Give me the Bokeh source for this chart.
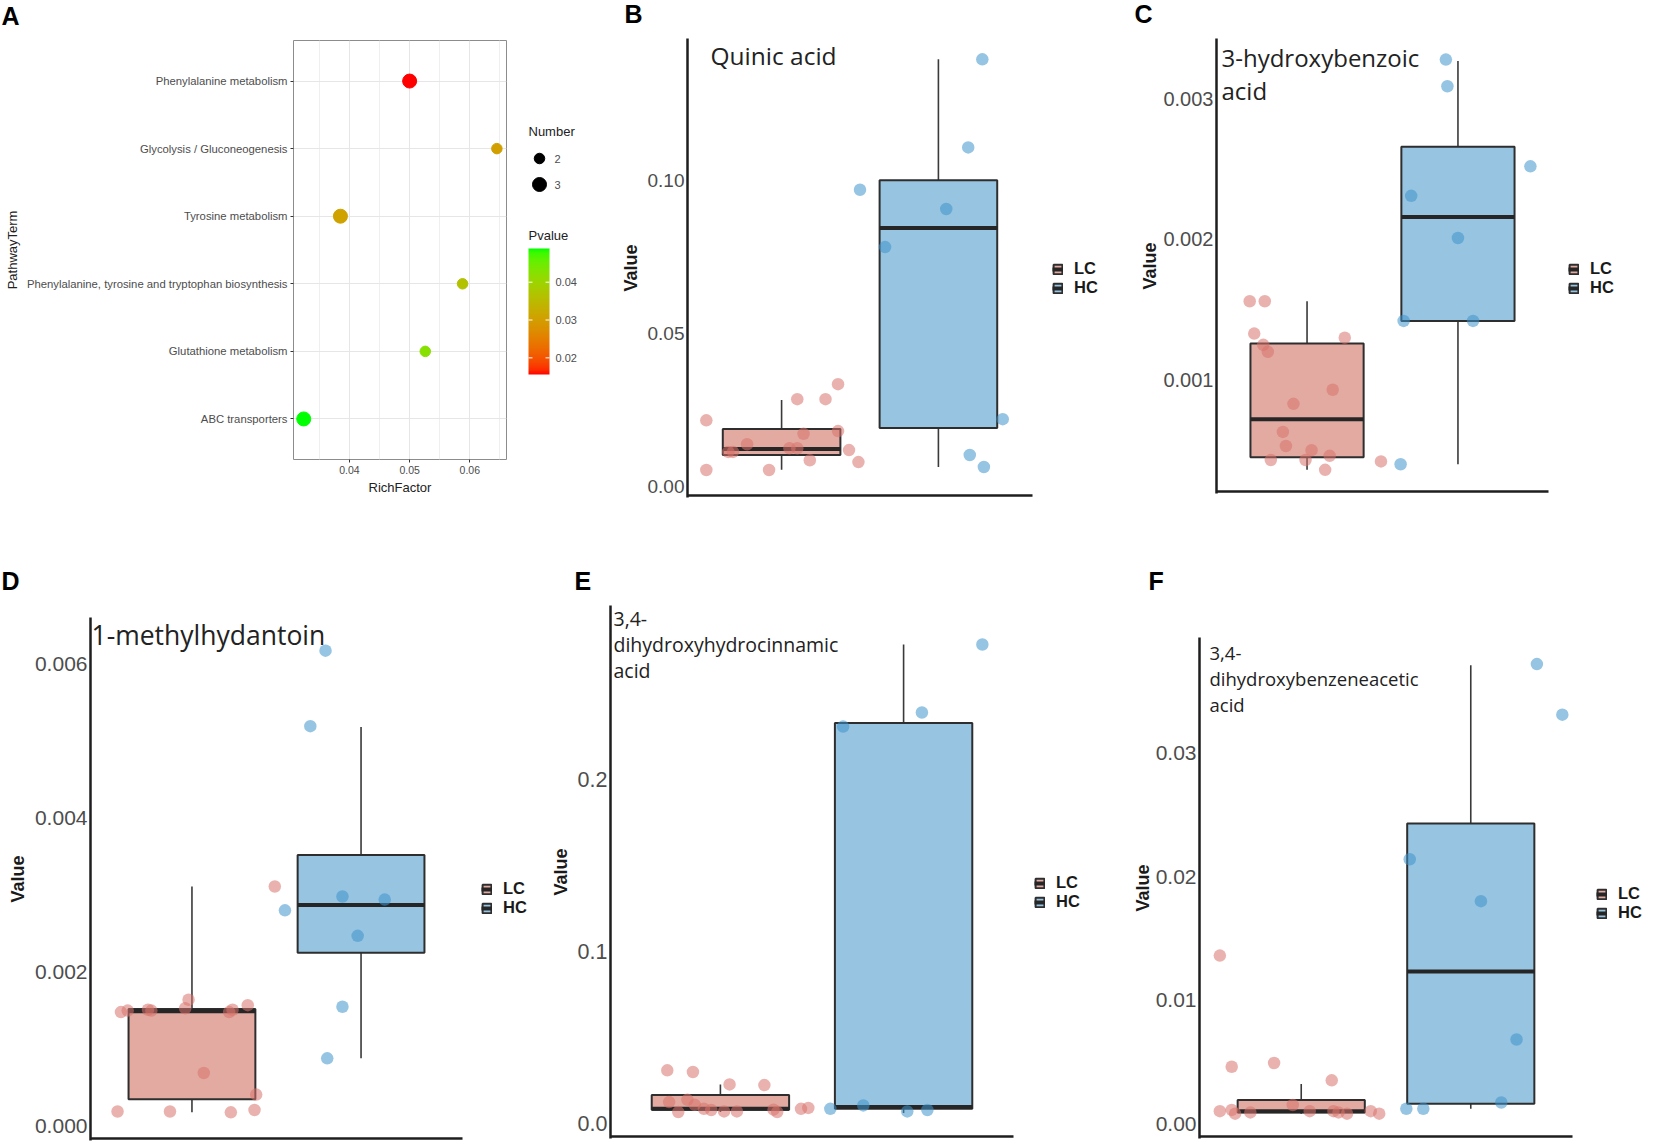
import numpy as np
from bokeh.plotting import figure
from bokeh.layouts import row, column
from bokeh.models import (Range1d, FactorRange, FixedTicker, PrintfTickFormatter, Label,
                          Legend, LegendItem, ColumnDataSource, LinearColorMapper)
from bokeh.core.properties import value
from bokeh.embed import file_html
from bokeh.resources import INLINE

# ---------------- Panel A data (KEGG enrichment) ----------------
pathways = ["Phenylalanine metabolism", "Glycolysis / Gluconeogenesis", "Tyrosine metabolism",
            "Phenylalanine, tyrosine and tryptophan biosynthesis", "Glutathione metabolism",
            "ABC transporters"]
rich_factor = [0.0500, 0.0645, 0.0385, 0.0588, 0.0526, 0.0324]
pathway_number = [3, 2, 3, 2, 2, 3]
pathway_pvalue = [0.0156, 0.0303, 0.0308, 0.0365, 0.0425, 0.0489]
rich_ticks = [0.04, 0.05, 0.06]
pvalue_ticks = [0.02, 0.03, 0.04]

groups = ["LC", "HC"]
panel_letters = ["A", "B", "C", "D", "E", "F"]

# ---------------- Panel B: Quinic acid ----------------
quinic_lc_x = [0.52, 0.52, 0.92, 1.10, 1.28, 1.36, 1.14, 1.36, 0.78, 0.69, 0.66, 1.05, 1.10, 1.43, 1.18, 1.49]
quinic_lc_y = [0.0217, 0.0055, 0.0055, 0.0286, 0.0286, 0.0335, 0.0173, 0.0182, 0.0139, 0.0114, 0.0114,
               0.0126, 0.0126, 0.0120, 0.0087, 0.0081]
quinic_hc_x = [2.28, 2.19, 1.50, 2.05, 1.66, 2.41, 2.20, 2.29]
quinic_hc_y = [0.1394, 0.1107, 0.0969, 0.0906, 0.0782, 0.0221, 0.0104, 0.0065]
quinic_lc_box = [0.0056, 0.0104, 0.0124, 0.0189, 0.0283]   # lower whisker, q1, median, q3, upper whisker
quinic_hc_box = [0.0065, 0.0192, 0.0844, 0.1000, 0.1394]
quinic_ticks = [0.00, 0.05, 0.10]

# ---------------- Panel C: 3-hydroxybenzoic acid ----------------
hba_lc_x = [0.62, 0.72, 0.65, 1.25, 0.71, 0.74, 1.17, 0.91, 0.84, 0.86, 1.03, 0.76, 0.99, 1.15, 1.49, 1.12]
hba_lc_y = [0.00156, 0.00156, 0.00133, 0.00130, 0.00125, 0.00120, 0.00093, 0.00083, 0.00063, 0.00053,
            0.00050, 0.00043, 0.00043, 0.00046, 0.00042, 0.00036]
hba_hc_x = [1.92, 1.93, 2.48, 1.69, 2.00, 1.64, 2.10, 1.62]
hba_hc_y = [0.00328, 0.00309, 0.00252, 0.00231, 0.00201, 0.00142, 0.00142, 0.00040]
hba_lc_box = [0.00036, 0.00045, 0.00072, 0.00126, 0.00156]
hba_hc_box = [0.00040, 0.00142, 0.00216, 0.00266, 0.00327]
hba_ticks = [0.001, 0.002, 0.003]

# ---------------- Panel D: 1-methylhydantoin ----------------
mh_lc_x = [0.56, 0.87, 1.23, 1.37, 1.38, 1.07, 0.58, 0.62, 0.74, 0.76, 0.96, 0.98, 1.22, 1.24, 1.33, 1.49]
mh_lc_y = [0.00019, 0.00019, 0.00018, 0.00021, 0.00041, 0.00069, 0.00148, 0.00150, 0.00151, 0.00150,
           0.00153, 0.00164, 0.00148, 0.00151, 0.00157, 0.00311]
mh_hc_x = [1.79, 1.70, 1.89, 2.14, 1.55, 1.98, 1.89, 1.80]
mh_hc_y = [0.00617, 0.00519, 0.00298, 0.00294, 0.00280, 0.00247, 0.00155, 0.00088]
mh_lc_box = [0.00018, 0.00035, 0.00149, 0.00152, 0.00311]
mh_hc_box = [0.00088, 0.00225, 0.00287, 0.00352, 0.00518]
mh_ticks = [0.000, 0.002, 0.004, 0.006]

# ---------------- Panel E: 3,4-dihydroxyhydrocinnamic acid ----------------
dhca_lc_x = [0.71, 0.85, 1.05, 1.24, 0.72, 0.82, 0.86, 0.91, 0.77, 1.02, 1.09, 1.29, 1.44, 1.48, 1.31, 0.95]
dhca_lc_y = [0.0309, 0.0299, 0.0227, 0.0223, 0.0124, 0.0137, 0.0108, 0.0085, 0.0066, 0.0070, 0.0070,
             0.0080, 0.0085, 0.0090, 0.0066, 0.0078]
dhca_hc_x = [2.43, 2.10, 1.67, 1.60, 1.78, 2.02, 2.13]
dhca_hc_y = [0.2785, 0.2390, 0.2308, 0.0085, 0.0105, 0.0070, 0.0078]
dhca_lc_box = [0.0066, 0.0080, 0.0085, 0.0166, 0.0227]
dhca_hc_box = [0.0060, 0.0085, 0.0095, 0.2328, 0.2785]
dhca_ticks = [0.0, 0.1, 0.2]

# ---------------- Panel F: 3,4-dihydroxybenzeneacetic acid ----------------
dopac_lc_x = [0.52, 0.59, 0.84, 1.18, 0.52, 0.59, 0.61, 0.95, 1.19, 1.22, 1.27, 1.41, 1.46, 1.05, 0.70]
dopac_lc_y = [0.0136, 0.0046, 0.0049, 0.0035, 0.0010, 0.0011, 0.0008, 0.0015, 0.0010, 0.0009, 0.0008,
              0.0010, 0.0008, 0.0010, 0.0009]
dopac_hc_x = [2.39, 2.54, 1.64, 2.06, 2.27, 1.62, 1.72, 2.18]
dopac_hc_y = [0.0372, 0.0331, 0.0214, 0.0180, 0.0068, 0.0012, 0.0012, 0.0017]
dopac_lc_box = [0.0008, 0.0009, 0.0010, 0.0019, 0.0032]
dopac_hc_box = [0.0012, 0.0016, 0.0123, 0.0243, 0.0371]
dopac_ticks = [0.00, 0.01, 0.02, 0.03]

# ---------------- styling / layout helpers ----------------
W_TOTAL = 1654
H_TOTAL = 1146


def PX(x):
    """reference pixel column -> page pixel column"""
    if x <= 0:
        return 0
    if x >= W_TOTAL:
        return W_TOTAL
    return int(round(x * 0.998 - 1))


def PY(y):
    """reference pixel row -> page pixel row"""
    if y <= 0:
        return 0
    if y >= H_TOTAL:
        return H_TOTAL
    return int(round(y * 0.997 - 1.5))


ROW1 = (30, 530)      # first row of plots (below letter strip 0..30)
ROW2 = (605, 1146)    # second row of plots (below letter strip 530..605)

ARIAL = "Liberation Sans"
TITLE_FONT = "Open Sans"
LC_FILL = "#E3AAA2"
HC_FILL = "#96C4E1"
LC_PT = "#D9736B"
HC_PT = "#3F93CC"
BOX_LINE = "#2E2E2E"
AXC = "#1E1E1E"
TICK_TXT = "#4D4D4D"
SIZE_MAP = {2: 10.5, 3: 14}


def hex_to_rgb(h):
    return [int(h[i:i + 2], 16) / 255 for i in (1, 3, 5)]


def s2l(c):
    return c / 12.92 if c <= 0.04045 else ((c + 0.055) / 1.055) ** 2.4


def l2s(c):
    c = max(0.0, min(1.0, c))
    return 12.92 * c if c <= 0.0031308 else 1.055 * c ** (1 / 2.4) - 0.055


def rgb_to_lab(h):
    r, g, b = [s2l(c) for c in hex_to_rgb(h)]
    xx = (0.4124 * r + 0.3576 * g + 0.1805 * b) / 0.95047
    yy = 0.2126 * r + 0.7152 * g + 0.0722 * b
    zz = (0.0193 * r + 0.1192 * g + 0.9505 * b) / 1.08883
    f = lambda t: t ** (1 / 3) if t > 0.008856 else 7.787 * t + 16 / 116
    fx, fy, fz = f(xx), f(yy), f(zz)
    return (116 * fy - 16, 500 * (fx - fy), 200 * (fy - fz))


def lab_to_hex(L, a, b):
    fy = (L + 16) / 116
    fx = fy + a / 500
    fz = fy - b / 200
    finv = lambda t: t ** 3 if t ** 3 > 0.008856 else (t - 16 / 116) / 7.787
    xx = 0.95047 * finv(fx)
    yy = finv(fy)
    zz = 1.08883 * finv(fz)
    r = 3.2406 * xx - 1.5372 * yy - 0.4986 * zz
    g = -0.9689 * xx + 1.8758 * yy + 0.0415 * zz
    bb = 0.0557 * xx - 0.2040 * yy + 1.0570 * zz
    return "#%02x%02x%02x" % tuple(int(round(l2s(c) * 255)) for c in (r, g, bb))


lab_lo = rgb_to_lab("#FF0000")
lab_hi = rgb_to_lab("#00FF00")
palette = [lab_to_hex(*[lo + (hi - lo) * i / 255 for lo, hi in zip(lab_lo, lab_hi)]) for i in range(256)]
mapper = LinearColorMapper(palette=palette, low=min(pathway_pvalue), high=max(pathway_pvalue))


def make_fig(col, rws, frame, **kw):
    colL, colR = PX(col[0]), PX(col[1])
    rowT, rowB = PY(rws[0]), PY(rws[1])
    L, R, T, B = PX(frame[0]), PX(frame[1]), PY(frame[2]), PY(frame[3])
    width = colR - colL
    height = rowB - rowT
    left = L - colL
    fw = R - L
    right = width - left - fw
    top = T - rowT
    fh = B - T
    bottom = height - top - fh
    p = figure(width=width, height=height, output_backend="svg", toolbar_location=None,
               frame_align=False,
               min_border_left=left, min_border_right=right, min_border_top=top,
               min_border_bottom=bottom, **kw)
    fx = lambda xo: PX(xo) - L
    fy = lambda yo: B - PY(yo)
    return p, fx, fy


def letter_strip(rws, letters, positions):
    top = PY(rws[0])
    h = PY(rws[1]) - top
    p = figure(width=W_TOTAL, height=h, x_range=Range1d(0, W_TOTAL), y_range=Range1d(0, h),
               output_backend="svg", toolbar_location=None, min_border=0, frame_align=False,
               x_axis_location=None, y_axis_location=None)
    p.grid.visible = False
    p.outline_line_color = None
    p.text(x=[PX(pos[0]) for pos in positions], y=[h - (PY(pos[1]) - top) for pos in positions],
           text=letters, text_baseline="middle", text_align="left", text_font=value(ARIAL),
           text_font_size="25px", text_font_style="bold", text_color="black")
    return p


strip1 = letter_strip((0, ROW1[0]), panel_letters[:3], [(2, 17), (626, 15), (1137, 15)])
strip2 = letter_strip((ROW1[1], ROW2[0]), panel_letters[3:], [(2, 583), (576, 583), (1151, 583)])

# ---------------- Panel A ----------------
frame_a = (295, 508, 42, 462)
pa, fxa, fya = make_fig((0, 518), ROW1, frame_a,
                        x_range=Range1d(0.0307, 0.0661),
                        y_range=FactorRange(factors=list(reversed(pathways)), range_padding=0.1,
                                            range_padding_units="absolute"))
src_a = ColumnDataSource(dict(rf=rich_factor, path=pathways, num=pathway_number, pv=pathway_pvalue,
                              sz=[SIZE_MAP[n] for n in pathway_number]))
pa.scatter("rf", "path", size="sz", source=src_a,
           fill_color={"field": "pv", "transform": mapper},
           line_color={"field": "pv", "transform": mapper})
pa.outline_line_color = "#8C8C8C"
pa.outline_line_width = 1
pa.xaxis.ticker = FixedTicker(ticks=rich_ticks, minor_ticks=[0.035, 0.045, 0.055, 0.065])
pa.xgrid.grid_line_color = "#E6E6E6"
pa.xgrid.minor_grid_line_color = "#EFEFEF"
pa.ygrid.grid_line_color = "#E6E6E6"
for ax in (pa.xaxis[0], pa.yaxis[0]):
    ax.axis_line_color = None
    ax.major_tick_out = 3
    ax.major_tick_in = 0
    ax.minor_tick_out = 0
    ax.minor_tick_in = 0
    ax.major_tick_line_color = "#333333"
    ax.major_label_text_color = TICK_TXT
    ax.major_label_text_font = ARIAL
    ax.axis_label_text_font = ARIAL
    ax.axis_label_text_font_style = "normal"
    ax.axis_label_text_font_size = "13px"
    ax.axis_label_text_color = "#222222"
    ax.major_label_standoff = 3
pa.xaxis.major_label_text_font_size = "10.5px"
pa.yaxis.major_label_text_font_size = "11.3px"
pa.xaxis.axis_label = "RichFactor"
pa.yaxis.axis_label = "PathwayTerm"
pa.xaxis.axis_label_standoff = 3
pa.yaxis.axis_label_standoff = 4

# ---------------- Panel A legends (separate strip) ----------------
lw = PX(600) - PX(518)
lh = PY(ROW1[1]) - PY(ROW1[0])
pl = figure(width=lw, height=lh, x_range=Range1d(0, lw), y_range=Range1d(0, lh),
            output_backend="svg", toolbar_location=None, min_border=0, frame_align=False,
            x_axis_location=None, y_axis_location=None)
pl.grid.visible = False
pl.outline_line_color = None
lx = lambda xo: PX(xo) - PX(518)
ly = lambda yo: lh - (PY(yo) - PY(ROW1[0]))
num_levels = sorted(set(pathway_number))
num_rows = [ly(160), ly(186)]
pl.text(x=[lx(530)], y=[ly(133)], text=["Number"], text_baseline="middle", text_align="left",
        text_font=value(ARIAL), text_font_size="13px", text_color="#222222")
pl.scatter(x=[lx(541)] * len(num_levels), y=num_rows[:len(num_levels)],
           size=[SIZE_MAP[n] for n in num_levels], color="black")
pl.text(x=[lx(556)] * len(num_levels), y=num_rows[:len(num_levels)],
        text=[str(n) for n in num_levels], text_baseline="middle", text_align="left",
        text_font=value(ARIAL), text_font_size="11px", text_color=TICK_TXT)
pl.text(x=[lx(530)], y=[ly(237)], text=["Pvalue"], text_baseline="middle", text_align="left",
        text_font=value(ARIAL), text_font_size="13px", text_color="#222222")
bar_l, bar_r, bar_b, bar_t = lx(530), lx(551), ly(377), ly(250)
grad = np.linspace(mapper.low, mapper.high, 200).reshape(-1, 1)
pl.image(image=[grad], x=bar_l, y=bar_b, dw=bar_r - bar_l, dh=bar_t - bar_b, color_mapper=mapper)
tick_y = [bar_b + (t - mapper.low) / (mapper.high - mapper.low) * (bar_t - bar_b) for t in pvalue_ticks]
pl.segment(x0=[bar_l] * 3, x1=[bar_l + 4] * 3, y0=tick_y, y1=tick_y, line_color="white", line_width=1)
pl.segment(x0=[bar_r - 4] * 3, x1=[bar_r] * 3, y0=tick_y, y1=tick_y, line_color="white", line_width=1)
pl.text(x=[bar_r + 6] * 3, y=tick_y, text=["%.2f" % t for t in pvalue_ticks], text_baseline="middle",
        text_align="left", text_font=value(ARIAL), text_font_size="11px", text_color=TICK_TXT)


# ---------------- boxplot panels ----------------
def box_panel(col, rws, frame, ylim, ticks, fmt, tick_font, lc_x, lc_y, hc_x, hc_y,
              lc_box, hc_box, title_lines, title_pos, title_dy, title_size,
              label_standoff, legend_pos):
    L, R, T, B = frame
    pad = 2
    fr = (L, col[1], T, B + pad)          # frame runs to the column edge so the legend fits inside
    x_unit = (PX(R) - PX(L)) / 2.2        # pixels per category step
    x_end = 0.4 + (PX(col[1]) - PX(L)) / x_unit
    y_unit = (PY(B) - PY(T)) / (ylim[1] - ylim[0])
    y_start = ylim[0] - (PY(B + pad) - PY(B)) / y_unit
    p, fx, fy = make_fig(col, rws, fr, x_range=Range1d(0.4, x_end), y_range=Range1d(y_start, ylim[1]),
                         x_axis_location=None)
    p.grid.visible = False
    p.outline_line_color = None
    ax = p.yaxis[0]
    ax.ticker = FixedTicker(ticks=ticks)
    ax.formatter = PrintfTickFormatter(format=fmt)
    ax.axis_line_color = AXC
    ax.axis_line_width = 2.5
    ax.major_tick_in = 0
    ax.major_tick_out = 0
    ax.minor_tick_in = 0
    ax.minor_tick_out = 0
    ax.major_label_standoff = 3
    ax.major_label_text_font = ARIAL
    ax.major_label_text_font_size = tick_font
    ax.major_label_text_color = TICK_TXT
    ax.axis_label = "Value"
    ax.axis_label_text_font = ARIAL
    ax.axis_label_text_font_size = "18px"
    ax.axis_label_text_font_style = "bold"
    ax.axis_label_text_color = "#1A1A1A"
    ax.axis_label_standoff = label_standoff
    # bottom axis line, from the left limit to the right limit of the category axis
    p.segment(x0=[0.4], y0=[ylim[0]], x1=[2.6], y1=[ylim[0]], line_color=AXC, line_width=2.5)

    xs = [i + 1 for i in range(len(groups))]
    half = 0.375
    stats = [lc_box, hc_box]
    src = ColumnDataSource(dict(
        x=xs, lo=[s[0] for s in stats], q1=[s[1] for s in stats], med=[s[2] for s in stats],
        q3=[s[3] for s in stats], hi=[s[4] for s in stats], fill=[LC_FILL, HC_FILL],
        left=[v - half for v in xs], right=[v + half for v in xs]))
    p.segment(x0="x", y0="lo", x1="x", y1="hi", source=src, line_color="#3A3A3A", line_width=1.6)
    box_r = p.vbar(x="x", width=2 * half, bottom="q1", top="q3", source=src, fill_color="fill",
                   line_color=BOX_LINE, line_width=2)
    med_r = p.segment(x0="left", y0="med", x1="right", y1="med", source=src,
                      line_color="#262626", line_width=4)
    p.scatter(lc_x, lc_y, size=12.5, fill_color=LC_PT, line_color=None, fill_alpha=0.55)
    p.scatter(hc_x, hc_y, size=12.5, fill_color=HC_PT, line_color=None, fill_alpha=0.55)

    items = [LegendItem(label=g, renderers=[box_r, med_r], index=i) for i, g in enumerate(groups)]
    row_h = 18
    leg_top = PY(legend_pos[1]) - row_h / 2
    leg_bottom = leg_top + 2 * row_h
    legend = Legend(items=items,
                    location=(PX(legend_pos[0]) - PX(L), PY(B + pad) - leg_bottom),
                    glyph_width=11, glyph_height=12, label_height=16, label_standoff=11, spacing=0,
                    padding=0, margin=0, border_line_color=None, background_fill_alpha=0,
                    label_text_font=ARIAL, label_text_font_size="16.5px", label_text_font_style="bold",
                    label_text_color="#1A1A1A")
    p.add_layout(legend)

    for i, line in enumerate(title_lines):
        p.add_layout(Label(x=fx(title_pos[0]), y=fy(title_pos[1] + i * title_dy), x_units="screen",
                           y_units="screen", text=line, text_font=TITLE_FONT, text_font_size=title_size,
                           text_color="#222222", text_baseline="middle", text_align="left"))
    return p


pb = box_panel((600, 1110), ROW1, (689, 1035, 40, 498), (-0.0028, 0.1462), quinic_ticks, "%.2f", "19px",
               quinic_lc_x, quinic_lc_y, quinic_hc_x, quinic_hc_y, quinic_lc_box, quinic_hc_box,
               ["Quinic acid"], (712, 57), 0, "24.5px", 4, (1055, 272))
pc = box_panel((1110, W_TOTAL), ROW1, (1219, 1552, 40, 494), (0.000206, 0.003430), hba_ticks, "%.3f", "20px",
               hba_lc_x, hba_lc_y, hba_hc_x, hba_hc_y, hba_lc_box, hba_hc_box,
               ["3-hydroxybenzoic", "acid"], (1224, 59), 33, "24px", 0, (1572, 272))
pd = box_panel((0, 548), ROW2, (91, 464, 620, 1143), (-0.00016, 0.00660), mh_ticks, "%.3f", "21px",
               mh_lc_x, mh_lc_y, mh_hc_x, mh_hc_y, mh_lc_box, mh_hc_box,
               ["1-methylhydantoin"], (92, 637), 0, "26.5px", 4, (483, 894))
pe = box_panel((548, 1090), ROW2, (612, 1016, 608, 1141), (-0.0076, 0.3012), dhca_ticks, "%.1f", "21.5px",
               dhca_lc_x, dhca_lc_y, dhca_hc_x, dhca_hc_y, dhca_lc_box, dhca_hc_box,
               ["3,4-", "dihydroxyhydrocinnamic", "acid"], (615, 621), 26.5, "19.5px", 4,
               (1037, 888))
pf = box_panel((1090, W_TOTAL), ROW2, (1202, 1576, 640, 1141), (-0.00105, 0.03935), dopac_ticks, "%.2f",
               "21px", dopac_lc_x, dopac_lc_y, dopac_hc_x, dopac_hc_y, dopac_lc_box, dopac_hc_box,
               ["3,4-", "dihydroxybenzeneacetic", "acid"], (1212, 656), 26, "18.5px", 0,
               (1600, 899))

layout = column(strip1, row(pa, pl, pb, pc), strip2, row(pd, pe, pf))
open("out.html", "w").write(file_html(layout, INLINE, "Figure"))
